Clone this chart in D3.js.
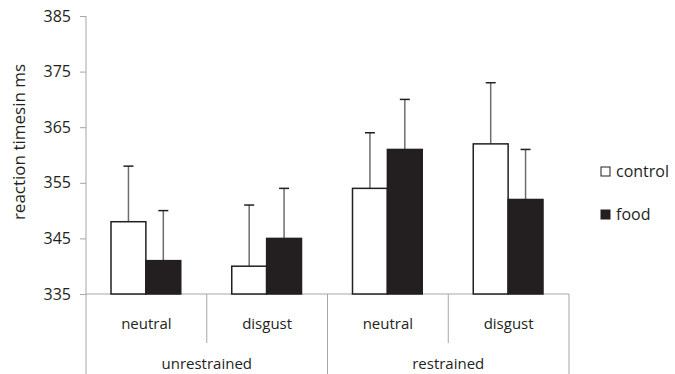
<!DOCTYPE html>
<html>
<head>
<meta charset="utf-8">
<script src="https://cdn.jsdelivr.net/npm/d3@7"></script>
<style>
  body { margin: 0; background: #fff; }
  text { font-family: "Open Sans", "Noto Sans", sans-serif; fill: #231f20; }
</style>
</head>
<body>
<svg width="675" height="374"></svg>
<script>
// data
var groups = ["unrestrained", "restrained"];
var conditions = ["neutral", "disgust"];
var series = ["control", "food"];
var controlMeans = [348, 340, 354, 362];
var foodMeans = [341, 345, 361, 352];
var controlErr = [10, 11, 10, 11];
var foodErr = [9, 9, 9, 9];
var yTicks = [335, 345, 355, 365, 375, 385];

var svg = d3.select("svg"),
    margin = {top: 16, left: 86},
    width = 483,
    height = 278;

var cells = [];
groups.forEach(function(g, gi) {
  conditions.forEach(function(c, ci) {
    cells.push({group: g, cond: c, key: g + "-" + c, i: gi * 2 + ci});
  });
});

var x = d3.scaleBand().domain(cells.map(function(d) { return d.key; })).range([0, width]);
var xs = d3.scaleBand().domain(series).range([25, x.bandwidth() - 26]);
var y = d3.scaleLinear().domain([335, 385]).range([height, 0]);

var g = svg.append("g")
    .attr("transform", "translate(" + margin.left + "," + margin.top + ")");

// y axis
var yAxis = g.append("g")
    .call(d3.axisLeft(y).tickValues(yTicks).tickSize(6).tickPadding(9).tickFormat(d3.format("d")));
yAxis.select(".domain").remove();
yAxis.selectAll("line").attr("stroke", "#a6a6a6");
yAxis.selectAll("text").style("font-size", "16px").attr("fill", "#231f20");
g.append("line")
    .attr("x1", 0).attr("x2", 0)
    .attr("y1", 0).attr("y2", 374 - margin.top)
    .attr("stroke", "#a6a6a6");

// x baseline and category dividers
g.append("line")
    .attr("x1", 0).attr("x2", width)
    .attr("y1", height).attr("y2", height)
    .attr("stroke", "#a6a6a6");
cells.forEach(function(d) {
  var xr = x(d.key) + x.bandwidth();
  var outer = d.i % 2 == 1;
  g.append("line")
      .attr("x1", xr).attr("x2", xr)
      .attr("y1", height).attr("y2", outer ? 374 - margin.top : height + 49)
      .attr("stroke", "#a6a6a6");
  g.append("text")
      .attr("x", x(d.key) + x.bandwidth() / 2)
      .attr("y", height + 35)
      .attr("text-anchor", "middle")
      .style("font-size", "15px")
      .text(d.cond);
});
groups.forEach(function(gr, gi) {
  g.append("text")
      .attr("x", (gi * 2 + 1) * x.bandwidth())
      .attr("y", height + 75)
      .attr("text-anchor", "middle")
      .style("font-size", "15px")
      .text(gr);
});

// bars
var bars = [];
cells.forEach(function(d) {
  bars.push({key: d.key, s: "control", v: controlMeans[d.i], e: controlErr[d.i]});
  bars.push({key: d.key, s: "food", v: foodMeans[d.i], e: foodErr[d.i]});
});

// error bars (upper only)
var eb = g.selectAll(".err").data(bars).enter().append("g").attr("class", "err");
eb.append("line")
    .attr("x1", function(d) { return x(d.key) + xs(d.s) + xs.bandwidth() / 2; })
    .attr("x2", function(d) { return x(d.key) + xs(d.s) + xs.bandwidth() / 2; })
    .attr("y1", function(d) { return y(d.v); })
    .attr("y2", function(d) { return y(d.v + d.e); })
    .attr("stroke", "#6d6d6d").attr("stroke-width", 1.5);
eb.append("line")
    .attr("x1", function(d) { return x(d.key) + xs(d.s) + xs.bandwidth() / 2 - 5; })
    .attr("x2", function(d) { return x(d.key) + xs(d.s) + xs.bandwidth() / 2 + 5; })
    .attr("y1", function(d) { return y(d.v + d.e); })
    .attr("y2", function(d) { return y(d.v + d.e); })
    .attr("stroke", "#231f20").attr("stroke-width", 1.5);

g.selectAll(".bar").data(bars).enter().append("rect")
    .attr("class", "bar")
    .attr("x", function(d) { return x(d.key) + xs(d.s); })
    .attr("y", function(d) { return y(d.v); })
    .attr("width", xs.bandwidth())
    .attr("height", function(d) { return height - y(d.v); })
    .attr("fill", function(d) { return d.s == "control" ? "#fff" : "#231f20"; })
    .attr("stroke", "#231f20")
    .attr("stroke-width", 1.5);

// y title
svg.append("text")
    .attr("transform", "translate(25,142) rotate(-90)")
    .attr("text-anchor", "middle")
    .style("font-size", "17px")
    .text("reaction timesin ms");

// legend
var lg = svg.append("g").attr("transform", "translate(601,167)");
series.forEach(function(s, i) {
  lg.append("rect")
      .attr("x", 0).attr("y", i * 43)
      .attr("width", 9).attr("height", 9)
      .attr("fill", s == "control" ? "#fff" : "#231f20")
      .attr("stroke", "#231f20").attr("stroke-width", 1);
  lg.append("text")
      .attr("x", 15).attr("y", i * 43 + 10)
      .style("font-size", "16px")
      .text(s);
});
</script>
</body>
</html>
